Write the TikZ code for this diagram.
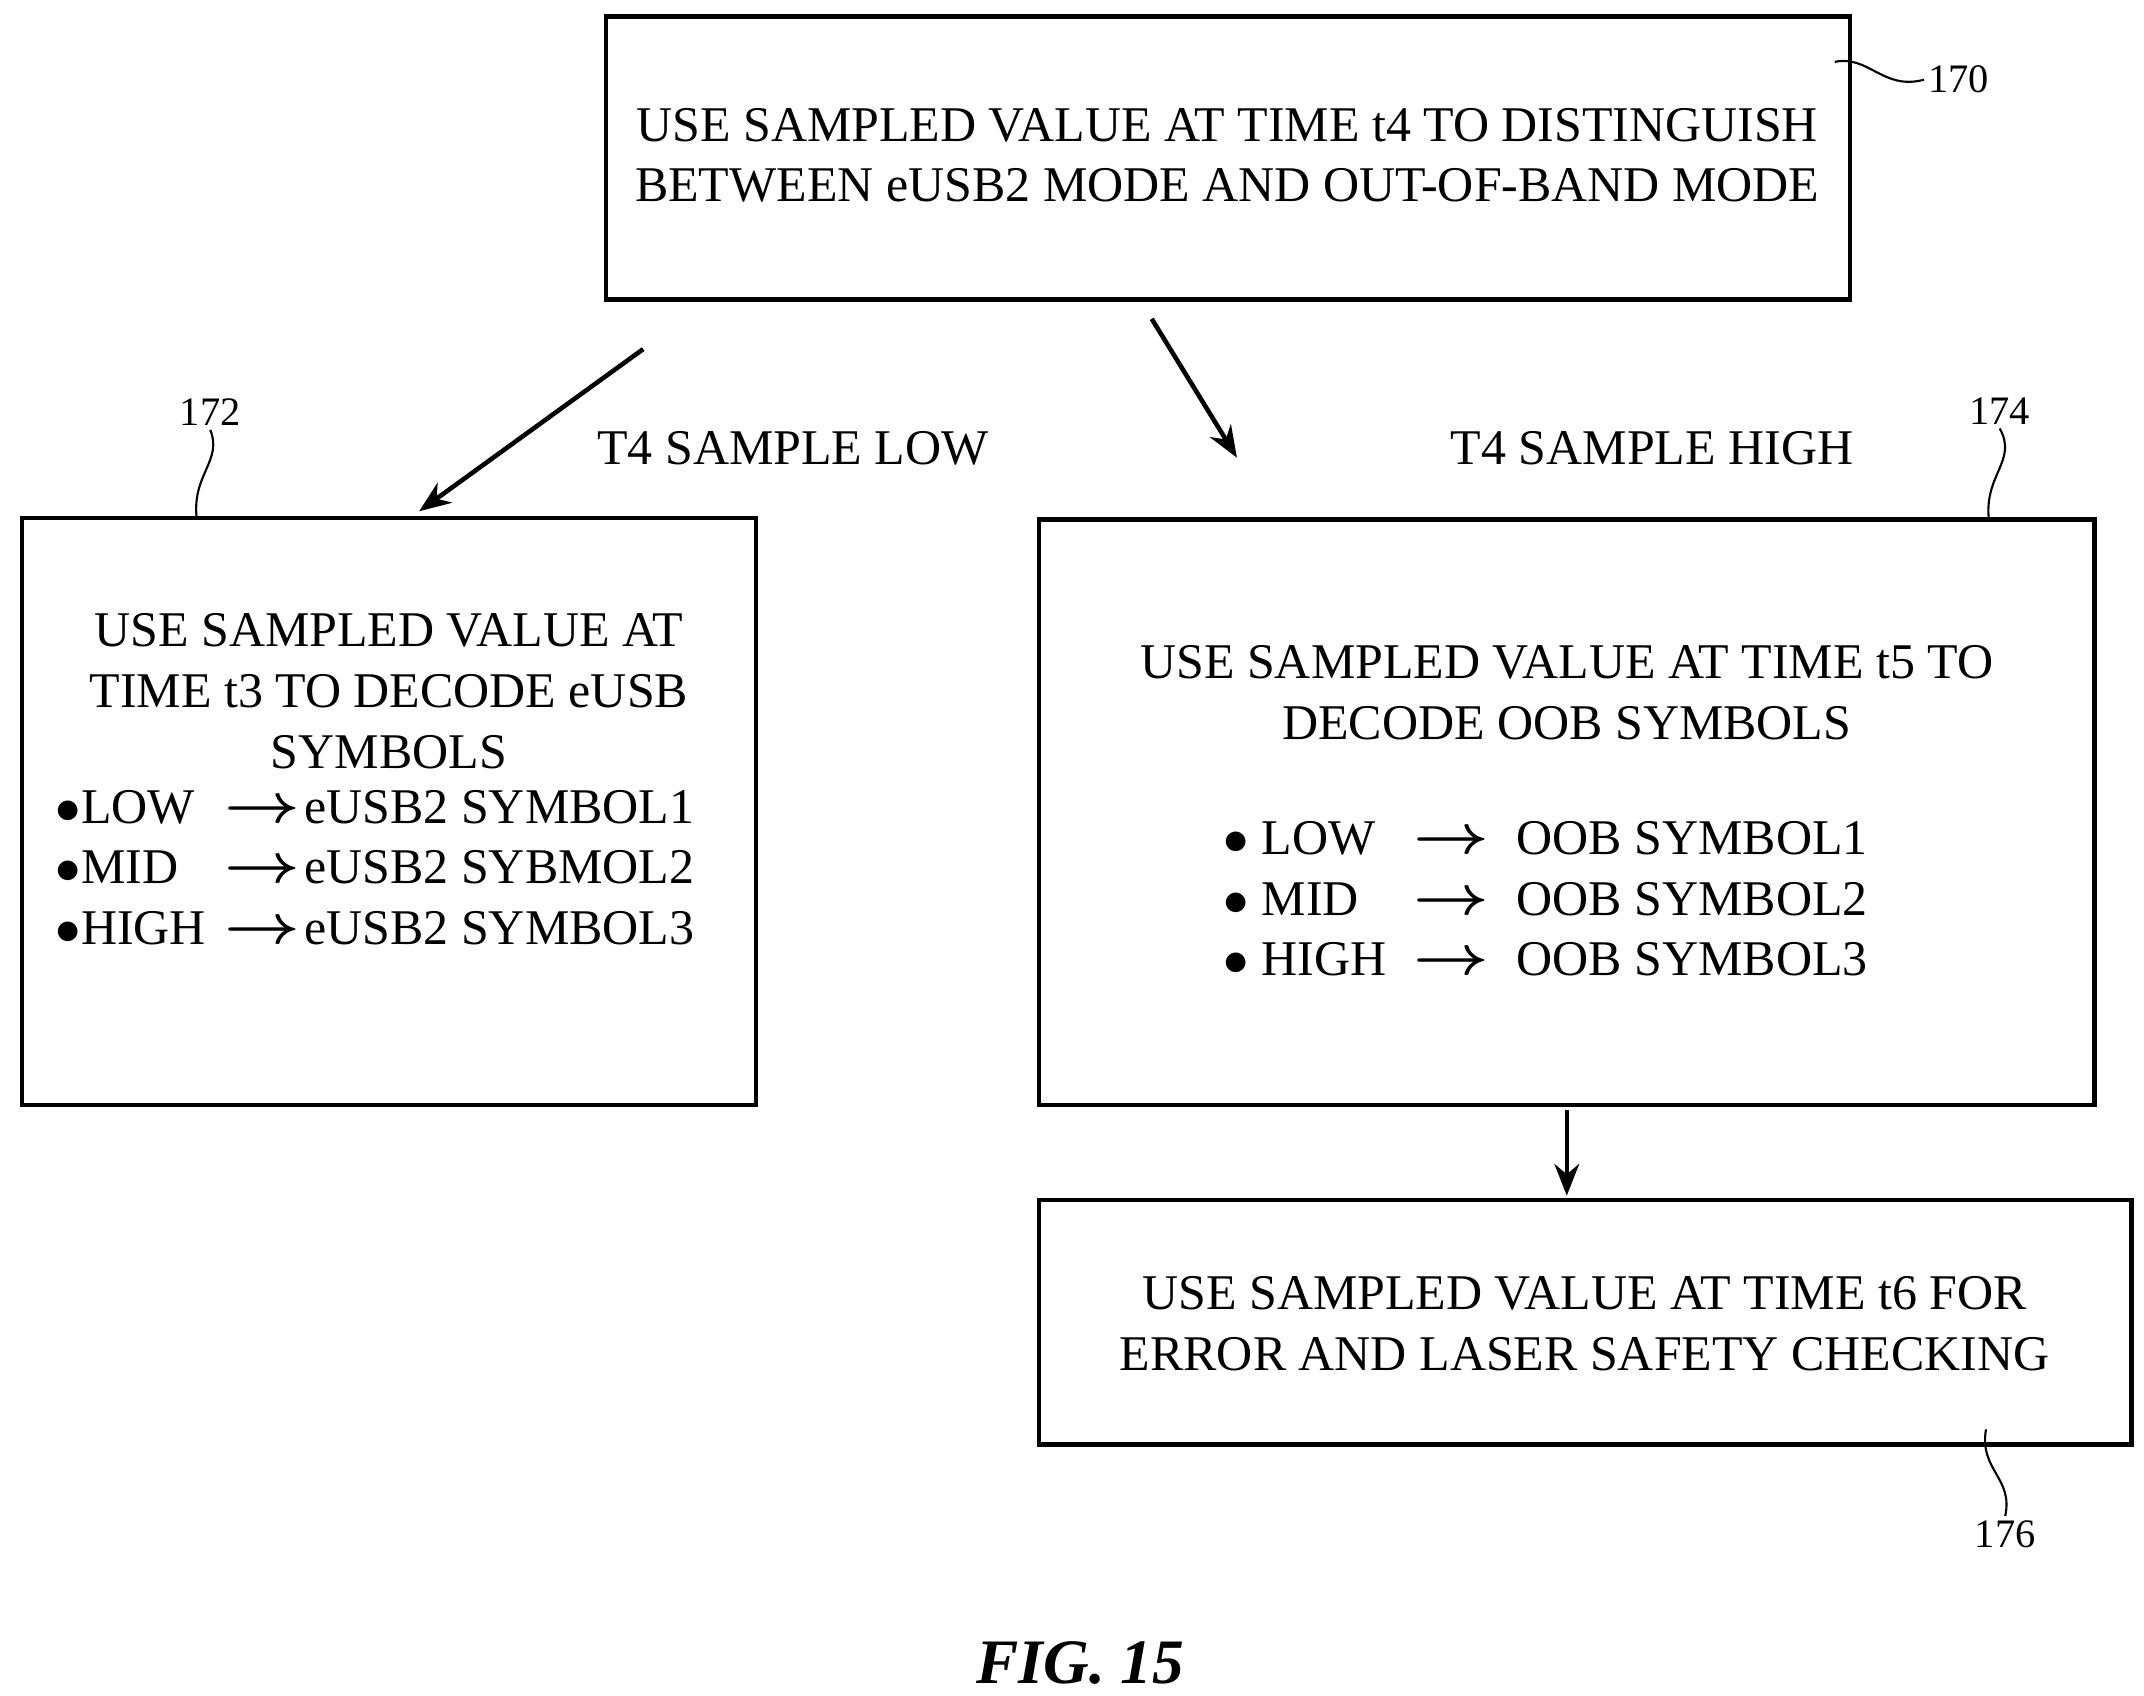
\documentclass[tikz,border=0pt]{standalone}
\usepackage{amsmath}
\usepackage{fontspec}
\setmainfont{Liberation Serif}
\usetikzlibrary{arrows.meta}
\tikzset{
    box/.style={draw, line width=1.3pt},
    txt/.style={font=\fontsize{14.2}{17.3}\selectfont, align=center, inner sep=0pt},
    row/.style={font=\fontsize{14.2}{17.3}\selectfont, anchor=base west, inner sep=0pt},
    flow/.style={-{Stealth[length=9pt,width=7pt]}, line width=1.3pt},
    refn/.style={font=\fontsize{11.5}{14}\selectfont, inner sep=1pt},
    lead/.style={line width=0.6pt}
}
\newcommand{\rarr}{\raisebox{0.05ex}{\scalebox{1.3}[1.1]{$\boldsymbol{\rightarrow}$}}}
\begin{document}
\begin{tikzpicture}[x=0.01374cm, y=-0.01374cm]
    \useasboundingbox (0,0) rectangle (1560,1234);

    % boxes
    \draw[box] (441,12) rectangle (1346,218);
    \draw[box] (16,377) rectangle (550,804);
    \draw[box] (756,378) rectangle (1524,804);
    \draw[box] (756,873) rectangle (1551,1051);

    % top box
    \node[txt] (top) at (893,113) {USE SAMPLED VALUE AT TIME t4 TO DISTINGUISH\\BETWEEN eUSB2 MODE AND OUT-OF-BAND MODE};

    % left box
    \node[txt] (lefthead) at (283,503) {USE SAMPLED VALUE AT\\TIME t3 TO DECODE eUSB\\SYMBOLS};
    \foreach \y/\a/\b in {599/LOW/SYMBOL1, 643/MID/SYBMOL2, 687/HIGH/SYMBOL3} {
        \node[row] at (40,\y) {$\bullet$\a};
        \node[row] at (163,\y) {\rarr};
        \node[row] at (221,\y) {eUSB2 \b};
    }

    % right box
    \node[txt] (righthead) at (1140,504) {USE SAMPLED VALUE AT TIME t5 TO\\DECODE OOB SYMBOLS};
    \foreach \y/\a/\b in {622/LOW/SYMBOL1, 666/MID/SYMBOL2, 710/HIGH/SYMBOL3} {
        \node[row] at (890,\y) {$\bullet$\ \a};
        \node[row] at (1028,\y) {\rarr};
        \node[row] at (1103,\y) {OOB \b};
    }

    % bottom box
    \node[txt] (bottom) at (1153,963) {USE SAMPLED VALUE AT TIME t6 FOR\\ERROR AND LASER SAFETY CHECKING};

    % arrows
    \coordinate (a1) at (468,254); \coordinate (a2) at (305,372);
    \coordinate (b1) at (838,232); \coordinate (b2) at (900,333);
    \coordinate (c1) at (1140,808); \coordinate (c2) at (1140,870);
    \draw[flow] (a1) -- (a2);
    \draw[flow] (b1) -- (b2);
    \draw[flow] (c1) -- (c2);
    \node[txt] (lowlbl) at (577,326) {T4 SAMPLE LOW};
    \node[txt] (highlbl) at (1202,326) {T4 SAMPLE HIGH};

    % reference numerals
    \node[refn] (r170) at (1425,58) {170};
    \draw[lead] (1335,45) .. controls (1360,40) and (1370,66) .. (r170.west);
    \node[refn] (r172) at (153,300) {172};
    \draw[lead] (r172.south) .. controls (162,335) and (140,345) .. (143,376);
    \node[refn] (r174) at (1455,299) {174};
    \draw[lead] (r174.south) .. controls (1468,335) and (1444,345) .. (1447,377);
    \node[refn] (r176) at (1459,1116) {176};
    \draw[lead] (1445,1040) .. controls (1440,1070) and (1465,1075) .. (r176.north);

    \node[font=\fontsize{18}{22}\selectfont\bfseries\itshape] (fig) at (786,1210) {FIG. 15};
\end{tikzpicture}
\end{document}
